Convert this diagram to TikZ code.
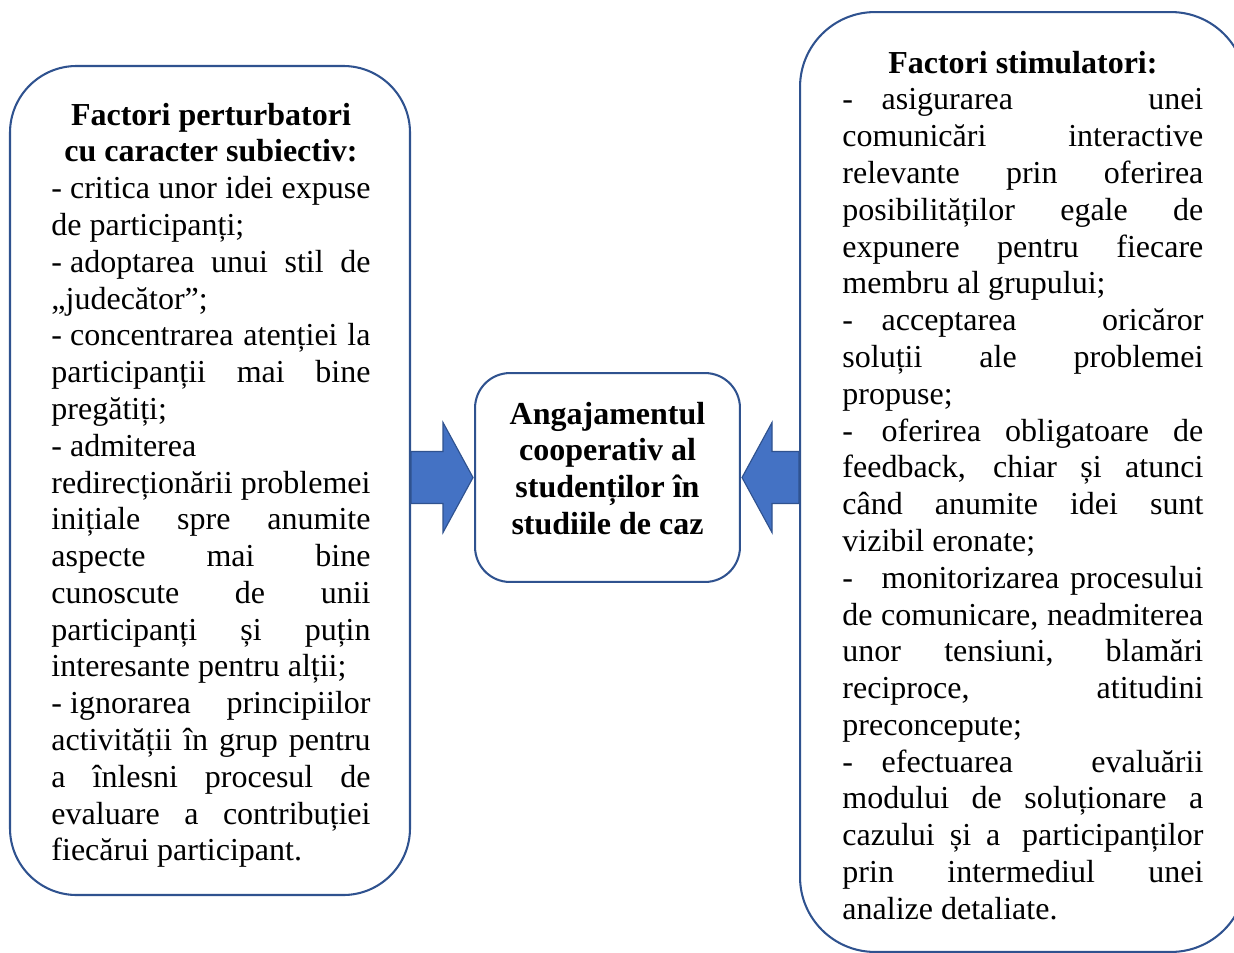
\documentclass[tikz,border=0pt]{standalone}
\usepackage{fontspec}
\setmainfont{Liberation Serif}
\usetikzlibrary{positioning}
\definecolor{boxline}{RGB}{47,82,143}
\definecolor{arrowfill}{RGB}{68,114,196}
% one justified line of the box text
\newcommand{\jl}[1]{\makebox[\hsize][s]{\spaceskip=0pt\xspaceskip=0pt #1}}
\newcommand{\cl}[1]{\makebox[\hsize][c]{\bfseries #1}}
\newcommand{\ldash}{-\hspace{3.5pt}}
\newcommand{\rdash}{-\hspace{12.5pt}}

\begin{document}
\begin{tikzpicture}[x=0.4375pt, y=-0.4375pt,
	roundbox/.style={draw=boxline, line width=0.9pt, fill=white, inner sep=0},
	boxtext/.style={inner sep=0, anchor=base west, align=justify,
		font=\fontsize{14}{16.1}\selectfont},
	blockarrow/.style={draw=boxline, line width=0.5pt, fill=arrowfill}]
\clip (0,0) rectangle (1234,953);
\node[roundbox, rounded corners=29.2pt, minimum width=175pt, minimum height=362.7pt]
	(lbox) at (210,480.5) {};
\node[roundbox, rounded corners=15.3pt, minimum width=115.9pt, minimum height=91.4pt]
	(mbox) at (607.5,477.5) {};
\node[roundbox, rounded corners=32.8pt, minimum width=195.1pt, minimum height=411.2pt]
	(rbox) at (1023,482) {};
\draw[blockarrow] (lbox.east |- mbox.west) ++(0,-26) -- ++(32,0) -- ++(0,-29)
	-- ++(30,55) -- ++(-30,55) -- ++(0,-29) -- ++(-32,0) -- cycle;
\draw[blockarrow] (rbox.west |- mbox.east) ++(0,-26) -- ++(-27,0) -- ++(0,-29)
	-- ++(-30,55) -- ++(30,55) -- ++(0,-29) -- ++(27,0) -- cycle;
\node[boxtext, text width=139.6pt] (ltext) at (51,125) {%
	\cl{Factori perturbatori}\\
	\cl{cu caracter subiectiv:}\\
	\jl{\ldash critica unor idei expuse}\\
	de participanți;\\
	\jl{\ldash adoptarea unui stil de}\\
	„judecător”;\\
	\jl{\ldash concentrarea atenției la}\\
	\jl{participanții mai bine}\\
	pregătiți;\\
	\ldash admiterea\\
	\jl{redirecționării problemei}\\
	\jl{inițiale spre anumite}\\
	\jl{aspecte mai bine}\\
	\jl{cunoscute de unii}\\
	\jl{participanți și puțin}\\
	interesante pentru alții;\\
	\jl{\ldash ignorarea principiilor}\\
	\jl{activității în grup pentru}\\
	\jl{a înlesni procesul de}\\
	\jl{evaluare a contribuției}\\
	fiecărui participant.};
\node[boxtext, anchor=base, text width=113.8pt] (mtext) at (607.5,424) {%
	\cl{Angajamentul}\\ \cl{cooperativ al}\\ \cl{studenților în}\\ \cl{studiile de caz}};
\node[boxtext, text width=157.9pt] (rtext) at (842,73) {%
	\cl{Factori stimulatori:}\\
	\jl{\rdash asigurarea unei}\\
	\jl{comunicări interactive}\\
	\jl{relevante prin oferirea}\\
	\jl{posibilităților egale de}\\
	\jl{expunere pentru fiecare}\\
	membru al grupului;\\
	\jl{\rdash acceptarea oricăror}\\
	\jl{soluții ale problemei}\\
	propuse;\\
	\jl{\rdash oferirea obligatoare de}\\
	\jl{feedback, chiar și atunci}\\
	\jl{când anumite idei sunt}\\
	vizibil eronate;\\
	\jl{\rdash monitorizarea procesului}\\
	\jl{de comunicare, neadmiterea}\\
	\jl{unor tensiuni, blamări}\\
	\jl{reciproce, atitudini}\\
	preconcepute;\\
	\jl{\rdash efectuarea evaluării}\\
	\jl{modului de soluționare a}\\
	\jl{cazului și a\hspace{3pt} participanților}\\
	\jl{prin intermediul unei}\\
	analize detaliate.};
\end{tikzpicture}
\end{document}
